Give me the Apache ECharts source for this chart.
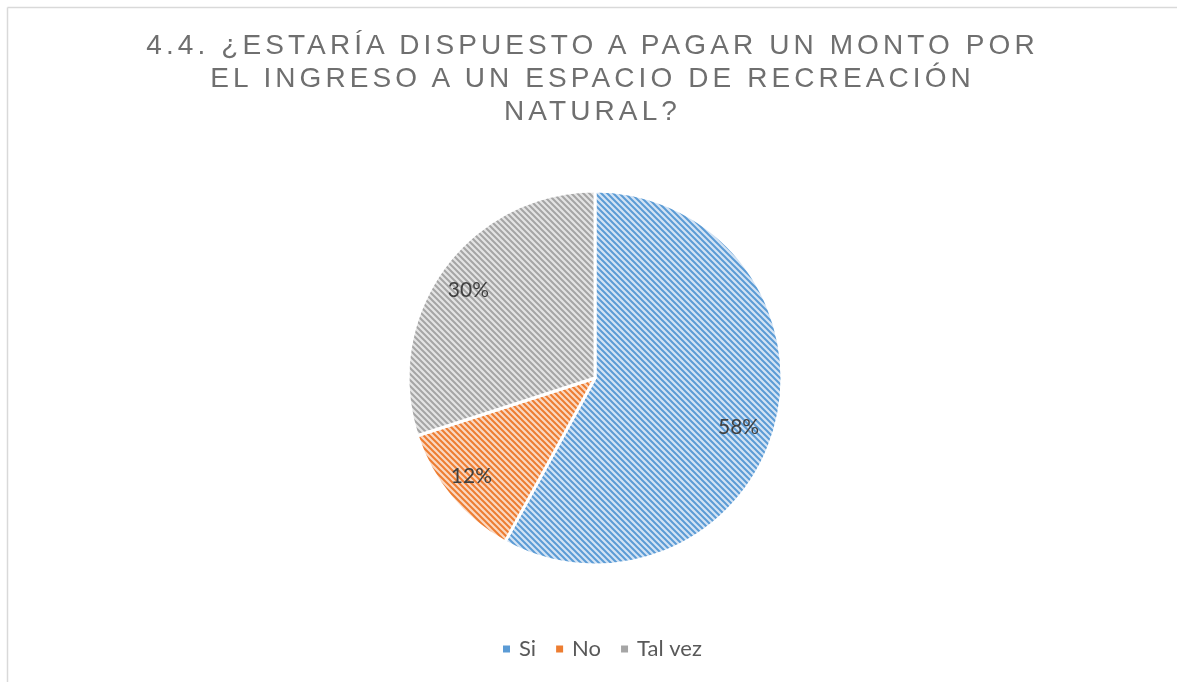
<!DOCTYPE html>
<html>
<head>
<meta charset="utf-8">
<script src="https://cdn.jsdelivr.net/npm/echarts@6/dist/echarts.min.js"></script>
<style>
  html, body { margin: 0; padding: 0; background: #fff; overflow: hidden; }
  #wrap { position: relative; width: 1177px; height: 682px; overflow: hidden; }
  #chart { position: absolute; left: 0; top: 0; width: 1177px; height: 682px; }
  #title {
    position: absolute; left: 4px; top: 28px; width: 1177px; text-align: center;
    font-family: "Liberation Sans", Arial, sans-serif; font-size: 28px; line-height: 33px;
    letter-spacing: 4.1px; color: #6f6f6f; pointer-events: none;
  }
</style>
</head>
<body>
<div id="wrap">
  <div id="chart"></div>
  <div id="title">4.4. ¿ESTARÍA DISPUESTO A PAGAR UN MONTO POR<br>EL INGRESO A UN ESPACIO DE RECREACIÓN<br>NATURAL?</div>
</div>
<script>
// Survey answers and their shares (%)
const categories = ['Si', 'No', 'Tal vez'];
const values = [58, 12, 30];

// Colour per answer: stripe colour and lighter ground
const stripeColors = ['#5b9bd5', '#ed7d31', '#a5a5a5'];
const groundColors = ['#d3e3f4', '#fad8c2', '#e4e4e4'];

// Diagonal hatch tile ("\" stripes) used as slice fill
function hatch(stripe, ground) {
  const s = 6;
  const c = document.createElement('canvas');
  c.width = s; c.height = s;
  const g = c.getContext('2d');
  g.fillStyle = ground;
  g.fillRect(0, 0, s, s);
  g.strokeStyle = stripe;
  g.lineWidth = 2;
  g.beginPath();
  g.moveTo(-1, -1); g.lineTo(s + 1, s + 1);
  g.moveTo(-1, s - 1); g.lineTo(1, s + 1);
  g.moveTo(s - 1, -1); g.lineTo(s + 1, 1);
  g.stroke();
  return { image: c, repeat: 'repeat' };
}

const pieData = categories.map((name, i) => ({
  name: name,
  value: values[i],
  itemStyle: { color: hatch(stripeColors[i], groundColors[i]) }
}));

// Label nudges for a "best fit" placement inside each slice
const labelNudge = { 'Si': [-8, 10], 'No': [-3, -2], 'Tal vez': [0, 4] };

const chart = echarts.init(document.getElementById('chart'), null, { renderer: 'canvas' });
chart.setOption({
  animation: false,
  color: stripeColors,
  graphic: [
    {
      type: 'line',
      shape: { x1: 7.5, y1: 7.5, x2: 1200, y2: 7.5 },
      style: { stroke: '#d9d9d9', lineWidth: 1.5 },
      silent: true
    },
    {
      type: 'line',
      shape: { x1: 7.5, y1: 7.5, x2: 7.5, y2: 700 },
      style: { stroke: '#d9d9d9', lineWidth: 1.5 },
      silent: true
    }
  ],
  legend: {
    data: categories.map((n, i) => ({ name: n, itemStyle: { color: stripeColors[i] } })),
    top: 638,
    left: 501,
    padding: 0,
    icon: 'rect',
    itemWidth: 9,
    itemHeight: 9,
    itemGap: 18,
    textStyle: {
      fontFamily: 'Lato, "Noto Sans", sans-serif',
      fontSize: 22,
      color: '#595959',
      padding: [0, 0, 0, 3]
    }
  },
  series: [
    {
      name: 'respuestas',
      type: 'pie',
      center: [595, 378],
      radius: [0, 187],
      startAngle: 90,
      clockwise: true,
      data: pieData,
      itemStyle: { borderColor: '#ffffff', borderWidth: 3 },
      label: { show: false },
      labelLine: { show: false },
      emphasis: { disabled: true }
    },
    {
      // transparent ring that only carries the percentage labels
      name: 'etiquetas',
      type: 'pie',
      center: [595, 378],
      radius: [120, 187],
      startAngle: 90,
      clockwise: true,
      silent: true,
      data: categories.map((name, i) => ({
        name: name,
        value: values[i],
        label: { offset: labelNudge[name] }
      })),
      itemStyle: { color: 'rgba(0,0,0,0)', borderWidth: 0 },
      label: {
        show: true,
        position: 'inside',
        formatter: '{c}%',
        fontFamily: 'Lato, "Noto Sans", sans-serif',
        fontSize: 21,
        color: '#404040'
      },
      labelLine: { show: false },
      emphasis: { disabled: true }
    }
  ]
});
</script>
</body>
</html>
